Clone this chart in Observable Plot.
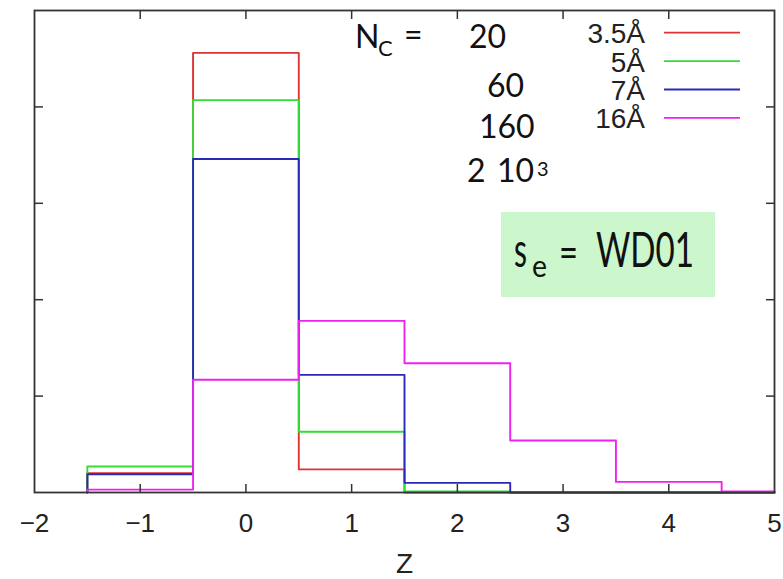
<!DOCTYPE html>
<html>
<head>
<meta charset="utf-8">
<script src="https://cdn.jsdelivr.net/npm/d3@7"></script>
<script src="https://cdn.jsdelivr.net/npm/@observablehq/plot@0.6"></script>
<style>
  html, body { margin: 0; padding: 0; background: #fff; }
  #chart svg { display: block; }
</style>
</head>
<body>
<div id="chart"></div>
<script>
// Histogram of grain charge Z for different grain sizes (bins of width 1, centred on integers)
const binStarts = [-1.5, -0.5, 0.5, 1.5, 2.5, 3.5, 4.5];
const binEnd = 5;
const seriesNames = ["3.5Å", "5Å", "7Å", "16Å"];
const seriesColors = ["#dd3333", "#33dd33", "#2a2ab8", "#ee22ee"];
const red35 = [0.20, 4.56, 0.24, 0.00, 0.00, 0.00, 0.00];
const green5 = [0.27, 4.07, 0.63, 0.01, 0.00, 0.00, 0.00];
const blue7 = [0.19, 3.46, 1.22, 0.10, 0.00, 0.00, 0.00];
const magenta16 = [0.03, 1.17, 1.78, 1.34, 0.54, 0.11, 0.01];
const seriesValues = [red35, green5, blue7, magenta16];
const xTickLabels = [-2, -1, 0, 1, 2, 3, 4, 5];
const xInnerTicks = [-1, 0, 1, 2, 3, 4];
const yInnerTicks = [1, 2, 3, 4];
const ncLabels = ["20", "60", "160"];

// build step outlines from the arrays
const points = [];
seriesNames.forEach((name, si) => {
  const vals = seriesValues[si];
  points.push({series: name, x: binStarts[0], y: 0});
  binStarts.forEach((x0, i) => points.push({series: name, x: x0, y: vals[i]}));
  points.push({series: name, x: binEnd, y: vals[vals.length - 1]});
});

const W = 783, H = 579;
const plot = Plot.plot({
  width: W,
  height: H,
  marginLeft: 34,
  marginRight: 9,
  marginTop: 10,
  marginBottom: 87,
  style: {fontFamily: "'Liberation Sans', Arial, sans-serif", fontSize: "26px", color: "#222", background: "#fff", overflow: "visible"},
  x: {domain: [-2, 5]},
  y: {domain: [0, 5]},
  color: {domain: seriesNames, range: seriesColors},
  marks: [
    Plot.line(points, {x: "x", y: "y", z: "series", stroke: "series", curve: "step-after", strokeWidth: 1.9}),
    Plot.axisX({ticks: xTickLabels, tickSize: 0, tickPadding: 21, label: null, fontSize: 26, tickFormat: d3.format("d")}),
    Plot.axisX({ticks: xInnerTicks, tickSize: -8, text: null, label: null, stroke: "#333", strokeWidth: 1.5}),
    Plot.axisX({anchor: "top", ticks: xInnerTicks, tickSize: -8, text: null, label: null, stroke: "#333", strokeWidth: 1.5}),
    Plot.axisY({ticks: yInnerTicks, tickSize: -9, text: null, label: null, stroke: "#333", strokeWidth: 1.5}),
    Plot.axisY({anchor: "right", ticks: yInnerTicks, tickSize: -9, text: null, label: null, stroke: "#333", strokeWidth: 1.5}),
    Plot.text(["Z"], {frameAnchor: "bottom", dy: 80, text: d => d, fontSize: 28, fill: "#222"}),
    Plot.frame({stroke: "#333", strokeWidth: 1.8})
  ]
});
document.getElementById("chart").appendChild(plot);

// annotations
const svg = d3.select(plot);
const ann = svg.append("g").attr("text-anchor", "start");
const humanist = "Lato, 'Open Sans', sans-serif";

// legend
seriesNames.forEach((name, i) => {
  const yLine = 32.7 + i * 28.4;
  ann.append("text").attr("x", 645).attr("y", yLine + 10.5).attr("text-anchor", "end")
    .attr("font-family", "'Liberation Sans', Arial, sans-serif").attr("font-size", 28).attr("fill", "#222").text(name);
  ann.append("line").attr("x1", 664).attr("x2", 740).attr("y1", yLine).attr("y2", yLine)
    .attr("stroke", seriesColors[i]).attr("stroke-width", 1.8);
});

// N_C block
const t = (x, y, s, fs, extra) => {
  const el = ann.append("text").attr("x", x).attr("y", y).attr("font-family", humanist)
    .attr("font-size", fs).attr("fill", "#111").attr("text-anchor", "start").text(s);
  if (extra) Object.entries(extra).forEach(([k, v]) => el.attr(k, v));
  return el;
};
t(355, 48, "N", 32);
t(378, 56, "C", 22);
t(404, 46, "=", 32);
t(469, 48, ncLabels[0], 32);
t(487, 97, ncLabels[1], 32);
t(479, 138, ncLabels[2], 32);
t(467, 182, "2", 32);
t(497, 182, "10", 32);
t(537, 176, "3", 20);

// s_e box
ann.append("rect").attr("x", 501).attr("y", 212).attr("width", 214).attr("height", 85).attr("fill", "#ccf6cc");
t(514, 267, "s", 48, {textLength: 13, lengthAdjust: "spacingAndGlyphs"});
t(532, 277, "e", 31, {textLength: 15, lengthAdjust: "spacingAndGlyphs"});
t(559, 267, "=", 42, {textLength: 19, lengthAdjust: "spacingAndGlyphs"});
t(596, 267, "WD01", 49, {textLength: 98, lengthAdjust: "spacingAndGlyphs"});
</script>
</body>
</html>
